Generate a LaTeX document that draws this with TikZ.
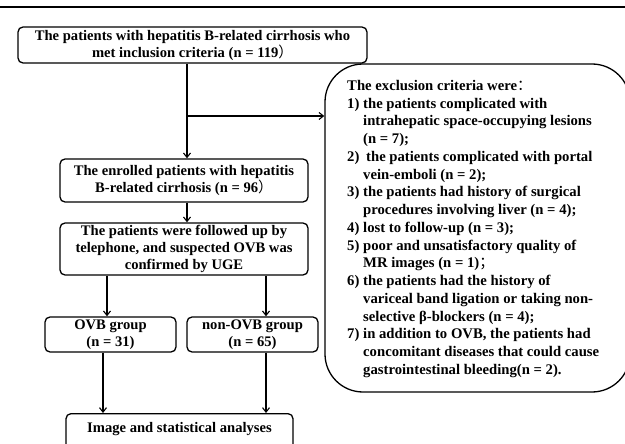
\documentclass[tikz,border=0pt]{standalone}
\usepackage{fontspec}
\setmainfont{Liberation Serif}
\newfontfamily\cjk{Noto Sans CJK SC}
\newcommand{\fw}[1]{{\cjk\mdseries #1}}
\usetikzlibrary{arrows.meta}
\tikzset{
  box/.style={draw, line width=1.3pt, rounded corners=5pt, align=center, inner sep=0pt,
    font=\fontsize{14.6}{17}\selectfont\bfseries},
  arr/.style={line width=1.1pt, -{Straight Barb[length=4.5pt,width=7pt,line width=1.1pt]}},
  lin/.style={line width=1.1pt}
}
\begin{document}
\begin{tikzpicture}[x=1pt,y=-1pt]
\useasboundingbox (0,0) rectangle (625,444);
\clip (0,0) rectangle (625,444);
\draw[line width=1.4pt] (0,7) -- (625,7);
\node[box, minimum width=349pt, minimum height=36pt] (box1) at (192.5,45)
  {The patients with hepatitis B-related cirrhosis who\\met inclusion criteria (n = 119\fw{）}};
\node[box, minimum width=248pt, minimum height=43pt] (box2) at (184,180.5)
  {The enrolled patients with hepatitis\\B-related cirrhosis (n = 96\fw{）}};
\node[box, minimum width=248pt, minimum height=52pt] (box3) at (184,249)
  {The patients were followed up by\\telephone, and suspected OVB was\\confirmed by UGE};
\node[box, minimum width=131pt, minimum height=35pt] (ovb) at (110.5,334.5)
  {OVB group\\(n = 31)};
\node[box, minimum width=131pt, minimum height=35pt] (novb) at (252.5,334.5)
  {non-OVB group\\(n = 65)};
\node[box, anchor=north, minimum width=227pt, text height=18.5pt, text depth=20pt] (res) at (179.5,413)
  {Image and statistical analyses};
\node[draw, line width=1.3pt, rounded corners=38pt, minimum width=305pt, minimum height=328pt, inner sep=0pt] (excl) at (477.5,228) {};
\node[anchor=north west, align=left, inner sep=0pt, font=\fontsize{14.7}{17.75}\selectfont\bfseries] (excltext) at (347,80)
  {The exclusion criteria were\fw{：}\\
   \makebox[16pt][l]{1)}the patients complicated with\\
   \hspace*{16pt}intrahepatic space-occupying lesions\\
   \hspace*{16pt}(n = 7);\\
   \makebox[16pt][l]{2)}\hspace*{3pt}the patients complicated with portal\\
   \hspace*{16pt}vein-emboli (n = 2);\\
   \makebox[16pt][l]{3)}the patients had history of surgical\\
   \hspace*{16pt}procedures involving liver (n = 4);\\
   \makebox[16pt][l]{4)}lost to follow-up (n = 3);\\
   \makebox[16pt][l]{5)}poor and unsatisfactory quality of\\
   \hspace*{16pt}MR images (n = 1)\fw{；}\\
   \makebox[16pt][l]{6)}the patients had the history of\\
   \hspace*{16pt}variceal band ligation or taking non-\\
   \hspace*{16pt}selective β-blockers (n = 4);\\
   \makebox[16pt][l]{7)}in addition to OVB, the patients had\\
   \hspace*{16pt}concomitant diseases that could cause\\
   \hspace*{16pt}gastrointestinal bleeding(n = 2).};
\coordinate (branch) at (187,116);
\draw[lin] (box1.south -| branch) -- (branch);
\draw[arr] (branch) -- (box2.north -| branch);
\draw[arr] (branch) -- (branch -| excl.west);
\draw[arr] (box2.south -| branch) -- (box3.north -| branch);
\coordinate (l1) at (107,0);
\coordinate (l2) at (266,0);
\draw[arr] (box3.south -| l1) -- (ovb.north -| l1);
\draw[arr] (box3.south -| l2) -- (novb.north -| l2);
\coordinate (m1) at (103,0);
\draw[arr] (ovb.south -| m1) -- (res.north -| m1);
\draw[arr] (novb.south -| l2) -- (res.north -| l2);
\end{tikzpicture}
\end{document}
